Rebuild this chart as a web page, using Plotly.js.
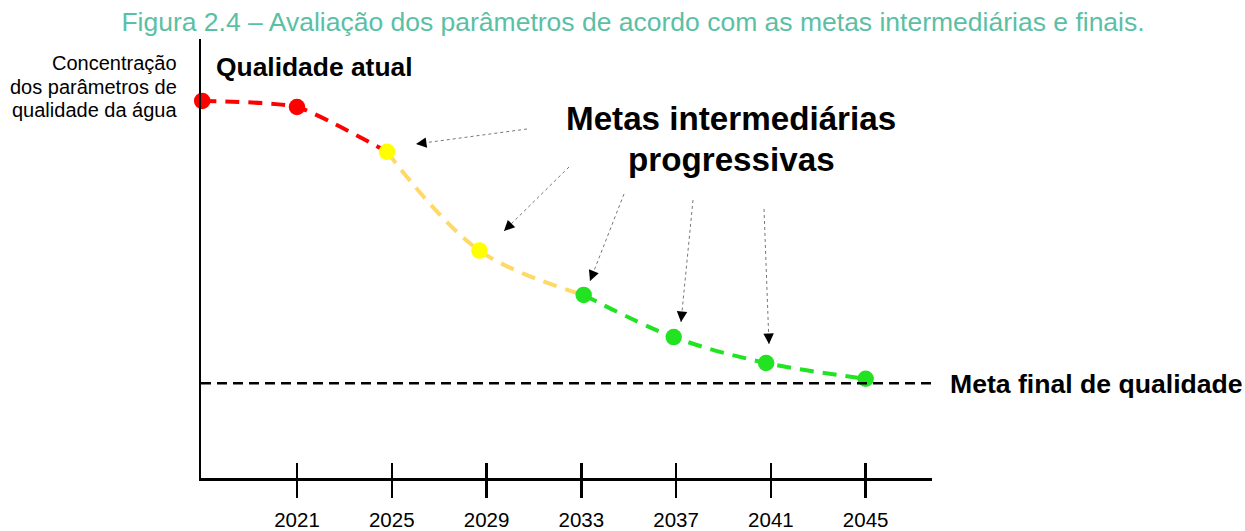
<!DOCTYPE html>
<html><head><meta charset="utf-8">
<script src="https://cdn.plot.ly/plotly-3.0.1.min.js"></script>
<style>html,body{margin:0;padding:0;background:#fff}</style>
</head><body><div id="chart" style="width:1245px;height:531px"></div>
<script>
// ---- data ----
const years = [2017, 2021, 2024.8, 2028.7, 2033.1, 2036.9, 2040.8, 2045];
const concentration = [85.9, 84.5, 74.3, 51.8, 41.7, 32.1, 26.2, 22.6];
const pointColors = ['#ff0000', '#ff0000', '#ffff00', '#ffff00', '#22e322', '#22e322', '#22e322', '#22e322'];
const redIdx = [0, 1, 2];
const yellowIdx = [2, 3, 4];
const greenIdx = [4, 5, 6, 7];
const tickYears = [2021, 2025, 2029, 2033, 2037, 2041, 2045];
const tickLabels = ['2021', '2025', '2029', '2033', '2037', '2041', '2045'];
const metaFinal = 21.6;
const xRange = [2016.95, 2047.8];
const yRange = [0, 100];

const titleText = 'Figura 2.4 – Avaliação dos parâmetros de acordo com as metas intermediárias e finais.';
const yLabelLines = ['Concentração', 'dos parâmetros de', 'qualidade da água'];
const currentLabel = 'Qualidade atual';
const goalsLines = ['Metas intermediárias', 'progressivas'];
const finalLabel = 'Meta final de qualidade';

// ---- layout geometry ----
const W = 1245, H = 531;
const M = {l: 201, r: 313, t: 39, b: 53};
const PW = W - M.l - M.r, PH = H - M.t - M.b;
const px = v => (v - M.l) / PW;
const py = v => (H - M.b - v) / PH;
const FONT = 'Liberation Sans, Arial, sans-serif';

// arrows: [tailX, tailY, tipX, tipY] in pixels
const arrows = [
  [527, 129, 416, 144],
  [569, 167, 504, 231],
  [624, 194, 590, 281],
  [693, 200, 681, 322],
  [764, 209, 769, 344]
];

function seg(idx, color, smooth) {
  return {
    x: idx.map(i => years[i]), y: idx.map(i => concentration[i]),
    type: 'scatter', mode: 'lines', cliponaxis: false, hoverinfo: 'skip',
    line: {color: color, width: 4, dash: '14px,9px', shape: 'spline', smoothing: smooth}
  };
}

const traces = [
  {x: xRange, y: [metaFinal, metaFinal], xaxis: 'x2', type: 'scatter', mode: 'lines',
   cliponaxis: false, hoverinfo: 'skip', line: {color: '#000', width: 2.5, dash: '10px,6px'}},
  seg(redIdx, '#ff0000', 0.55),
  seg(yellowIdx, '#ffd966', 1),
  seg(greenIdx, '#22e322', 1),
  {x: years, y: concentration, type: 'scatter', mode: 'markers', cliponaxis: false,
   marker: {color: pointColors, size: 16.5, line: {width: 0}}}
];

const annotations = [];
const shapes = [];
yLabelLines.forEach((t, i) => annotations.push({
  text: t, xref: 'paper', yref: 'paper', x: px(179), y: py([63, 87, 110][i]),
  xanchor: 'right', yanchor: 'middle', showarrow: false,
  font: {family: FONT, size: 20, color: '#000'}
}));
annotations.push({
  text: '<b>' + currentLabel + '</b>', xref: 'paper', yref: 'paper', x: px(214), y: py(67),
  xanchor: 'left', yanchor: 'middle', showarrow: false, font: {family: FONT, size: 26.4, color: '#000'}
});
goalsLines.forEach((t, i) => annotations.push({
  text: '<b>' + t + '</b>', xref: 'paper', yref: 'paper', x: px(731), y: py([118, 160][i]),
  xanchor: 'center', yanchor: 'middle', showarrow: false, font: {family: FONT, size: 33.2, color: '#000'}
}));
annotations.push({
  text: '<b>' + finalLabel + '</b>', xref: 'paper', yref: 'paper', x: px(948), y: py(384),
  xanchor: 'left', yanchor: 'middle', showarrow: false, font: {family: FONT, size: 26.6, color: '#000'}
});
arrows.forEach(a => {
  const [tx, ty, hx, hy] = a;
  const dx = tx - hx, dy = ty - hy, L = Math.hypot(dx, dy);
  shapes.push({type: 'line', xref: 'paper', yref: 'paper', x0: px(tx), y0: py(ty), x1: px(hx), y1: py(hy),
    line: {color: '#777', width: 1, dash: 'dot'}});
  annotations.push({
    text: '', xref: 'paper', yref: 'paper', x: px(hx), y: py(hy), axref: 'pixel', ayref: 'pixel',
    ax: dx / L * 11, ay: dy / L * 11, showarrow: true, arrowhead: 2, arrowsize: 2.1, arrowwidth: 1,
    arrowcolor: '#000', standoff: 0
  });
});

const layout = {
  width: W, height: H, margin: M, paper_bgcolor: '#fff', plot_bgcolor: '#fff', showlegend: false,
  font: {family: FONT, color: '#000'},
  title: {text: titleText, xref: 'container', yref: 'container', x: 633 / W, y: 1 - 22 / H,
    xanchor: 'center', yanchor: 'middle', font: {family: FONT, size: 26.5, color: '#5bbfa5'}},
  xaxis: {range: xRange, showline: true, linewidth: 2.5, linecolor: '#000', ticks: 'outside',
    ticklen: 17, tickwidth: 2.5, tickcolor: '#000', tickmode: 'array', tickvals: tickYears, ticktext: tickLabels,
    tickfont: {family: FONT, size: 20.5, color: '#000'}, ticklabelstandoff: 5,
    showgrid: false, zeroline: false, fixedrange: true},
  xaxis2: {overlaying: 'x', matches: 'x', anchor: 'y', side: 'bottom', ticks: 'inside', ticklen: 15,
    tickwidth: 2.5, tickcolor: '#000', tickmode: 'array', tickvals: tickYears, showticklabels: false,
    showline: false, showgrid: false, zeroline: false, fixedrange: true},
  yaxis: {range: yRange, showline: true, linewidth: 2.5, linecolor: '#000', ticks: '',
    showticklabels: false, showgrid: false, zeroline: false, fixedrange: true},
  annotations: annotations, shapes: shapes
};

Plotly.newPlot('chart', traces, layout, {displayModeBar: false, staticPlot: true});
</script></body></html>
